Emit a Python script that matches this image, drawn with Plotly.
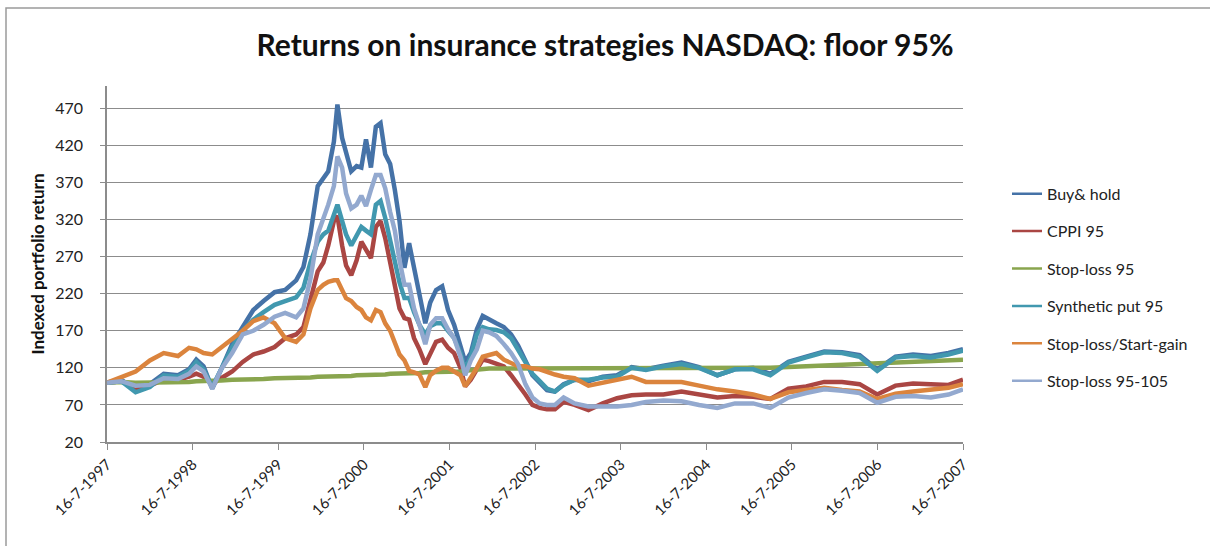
import plotly.graph_objects as go

dates = ["1997-07-16","1997-09-15","1997-11-15","1998-01-15","1998-03-15","1998-05-15","1998-07-01","1998-08-01","1998-09-01","1998-10-08","1998-11-15",
         "1999-01-01","1999-02-15","1999-04-01","1999-05-15","1999-07-01","1999-08-15","1999-10-01","1999-11-01","1999-12-01",
         "2000-01-01","2000-01-25","2000-02-15","2000-03-10","2000-03-25","2000-04-14","2000-05-01","2000-05-23","2000-06-15","2000-07-05","2000-07-25","2000-08-15","2000-09-05","2000-09-25","2000-10-15","2000-11-05","2000-11-25","2000-12-15",
         "2001-01-05","2001-01-25","2001-02-15","2001-03-10","2001-04-04","2001-04-25","2001-05-20","2001-06-15","2001-07-10","2001-08-05","2001-09-01","2001-09-21","2001-10-15","2001-11-10","2001-12-05",
         "2002-01-01","2002-02-01","2002-03-05","2002-04-05","2002-05-05","2002-06-05","2002-07-05","2002-08-05","2002-09-05","2002-10-09","2002-11-15",
         "2003-01-01","2003-03-01","2003-05-01","2003-07-01","2003-09-01","2003-11-01",
         "2004-01-15","2004-04-01","2004-06-15","2004-09-01","2004-11-15",
         "2005-02-01","2005-04-15","2005-07-01","2005-09-15","2005-12-01",
         "2006-02-15","2006-05-01","2006-07-15","2006-10-01","2006-12-15",
         "2007-03-01","2007-05-15","2007-07-16"]

buy_hold = [100, 104, 90, 98, 112, 110, 118, 131, 122, 92, 118,
            152, 175, 198, 210, 222, 225, 238, 256, 300,
            365, 375, 385, 425, 475, 430, 410, 385, 392, 390, 428, 390, 445, 450, 408, 395, 360, 318,
            255, 288, 255, 218, 180, 208, 225, 230, 198, 178, 150, 128, 140, 172, 190,
            186, 180, 175, 165, 150, 128, 110, 100, 90, 88, 98,
            104, 102, 108, 110, 121, 118,
            123, 127, 121, 110, 118,
            120, 112, 128, 135, 142,
            141, 137, 118, 135, 138,
            136, 140, 145]

cppi_95 = [100, 102, 92, 96, 104, 104, 108, 112, 108, 98, 106,
           115, 128, 138, 142, 148, 160, 165, 175, 210,
           250, 262, 285, 318, 325, 285, 258, 245, 265, 290, 278, 268, 310, 318, 295, 262, 230, 200,
           187, 185, 160, 145, 125, 140, 155, 158, 147, 140, 120, 95, 104, 118, 131,
           129, 126, 122, 110, 98, 84, 70, 66, 64, 64, 74,
           70, 63, 72, 79, 83, 84,
           84, 88, 84, 80, 82,
           81, 78, 92, 95, 101,
           101, 98, 84, 96, 99,
           98, 97, 104]

stop_loss_95 = [100, 101, 100, 100, 100, 101, 101, 102, 102, 103, 103,
                104, 104, 105, 105, 106, 106, 107, 107, 107,
                108, 108, 108, 108, 109, 109, 109, 109, 110, 110, 110, 110, 111, 111, 111, 112, 112, 112,
                113, 113, 113, 113, 114, 114, 114, 114, 115, 115, 115, 116, 117, 118, 118,
                119, 119, 119, 119, 119, 119, 119, 119, 119, 119, 119,
                119, 119, 119, 119, 119, 119,
                119, 119, 119, 119, 119,
                120, 120, 121, 122, 123,
                123, 124, 125, 126, 127,
                128, 130, 131]

synthetic_put_95 = [100, 102, 87, 94, 110, 108, 116, 128, 118, 94, 118,
                    148, 170, 185, 195, 205, 210, 215, 228, 262,
                    290, 300, 305, 325, 340, 318, 300, 285, 300, 310, 305, 300, 340, 345, 322, 290, 265, 235,
                    214, 214, 195, 178, 165, 176, 180, 180, 170, 160, 140, 118, 135, 165, 175,
                    172, 171, 168, 160, 145, 128, 112, 102, 92, 88, 97,
                    104, 104, 107, 108, 120, 117,
                    122, 125, 120, 110, 118,
                    118, 110, 127, 134, 141,
                    140, 135, 116, 134, 136,
                    134, 138, 143]

stop_loss_start_gain = [100, 107, 115, 130, 140, 136, 147, 145, 140, 138, 147,
                        158, 170, 183, 188, 180, 160, 155, 165, 200,
                        225, 232, 236, 238, 238, 225, 214, 210, 202, 198, 188, 184, 198, 195, 180, 170, 152, 138,
                        130, 116, 114, 111, 94, 110, 116, 120, 120, 115, 110, 95, 106, 120, 135,
                        138, 140, 131, 126, 122, 122, 119, 118, 114, 111, 108,
                        106, 96, 100, 104, 108, 101,
                        101, 101, 96, 91, 88,
                        84, 78, 87, 90, 93,
                        90, 88, 78, 85, 88,
                        91, 93, 98]

stop_loss_95_105 = [100, 102, 96, 97, 106, 105, 112, 122, 115, 92, 118,
                    140, 165, 170, 178, 189, 194, 188, 200, 240,
                    300, 320, 340, 365, 405, 390, 355, 335, 340, 352, 338, 360, 380, 380, 362, 330, 305, 265,
                    232, 232, 200, 178, 152, 178, 187, 187, 172, 160, 135, 110, 130, 145, 170,
                    168, 163, 152, 140, 125, 98, 80, 72, 70, 70, 80,
                    72, 68, 68, 68, 70, 74,
                    76, 75, 70, 66, 72,
                    72, 66, 80, 86, 91,
                    89, 86, 73, 81, 82,
                    80, 84, 91]

series_names = ["Buy& hold", "CPPI 95", "Stop-loss 95", "Synthetic put 95", "Stop-loss/Start-gain", "Stop-loss 95-105"]
series_values = [buy_hold, cppi_95, stop_loss_95, synthetic_put_95, stop_loss_start_gain, stop_loss_95_105]
series_colors = ["#4572A7", "#AA4643", "#89A54E", "#4198AF", "#DB843D", "#93A9CF"]

year_ticks = ["1997-07-16","1998-07-16","1999-07-16","2000-07-16","2001-07-16","2002-07-16",
              "2003-07-16","2004-07-16","2005-07-16","2006-07-16","2007-07-16"]
year_labels = ["16-7-1997","16-7-1998","16-7-1999","16-7-2000","16-7-2001","16-7-2002",
               "16-7-2003","16-7-2004","16-7-2005","16-7-2006","16-7-2007"]
y_ticks = [20, 70, 120, 170, 220, 270, 320, 370, 420, 470]

FONT = "Lato, Calibri, Arial, sans-serif"

fig = go.Figure()
for name, vals, col in zip(series_names, series_values, series_colors):
    fig.add_trace(go.Scatter(x=dates, y=vals, mode="lines", name=name,
                             line=dict(color=col, width=4.5), showlegend=False))
# thin legend keys
for i, (name, col) in enumerate(zip(series_names, series_colors)):
    fig.add_trace(go.Scatter(x=[None], y=[None], mode="lines", name=name,
                             legendgroup=f"g{i}", line=dict(color=col, width=2.5)))

fig.update_layout(
    width=1210, height=546,
    margin=dict(l=107, r=247, t=86, b=104),
    paper_bgcolor="white", plot_bgcolor="white",
    font=dict(family=FONT, size=15, color="#222"),
    title=dict(text="<b>Returns on insurance strategies NASDAQ: floor 95%</b>",
               x=0.5, xanchor="center", y=1 - 45/546, yanchor="middle",
               font=dict(family=FONT, size=30, color="#111")),
    legend=dict(x=(1007 - 107) / 856, xanchor="left", y=0.745, yanchor="top",
                tracegroupgap=13.6, traceorder="grouped",
                font=dict(family=FONT, size=16, color="#222"),
                bgcolor="rgba(0,0,0,0)"),
    xaxis=dict(type="date", range=["1997-07-16", "2007-07-16"],
               tickvals=year_ticks, ticktext=year_labels, tickangle=-45,
               showgrid=False, showline=True, linecolor="#8c8c8c", linewidth=1.5,
               ticks="outside", ticklen=6, tickcolor="#8c8c8c",
               tickfont=dict(family=FONT, size=15, color="#222"), zeroline=False),
    yaxis=dict(range=[20, 500], tickvals=y_ticks,
               showgrid=True, gridcolor="#8c8c8c", gridwidth=1.2,
               showline=True, linecolor="#8c8c8c", linewidth=1.5,
               ticks="outside", ticklen=5, tickcolor="#8c8c8c", ticklabelstandoff=14,
               tickfont=dict(family=FONT, size=16, color="#222"), zeroline=False,
               title=dict(text="<b>Indexed portfolio return</b>", standoff=6,
                          font=dict(family=FONT, size=17, color="#111"))),
    shapes=[dict(type="rect", xref="paper", yref="paper",
                 x0=(6 - 107) / 856, x1=1.6, y0=-0.6, y1=(442.3 - 8) / 356.2,
                 line=dict(color="#9a9a9a", width=1.5), fillcolor="rgba(0,0,0,0)", layer="below")],
)

fig.write_html("out.html")
